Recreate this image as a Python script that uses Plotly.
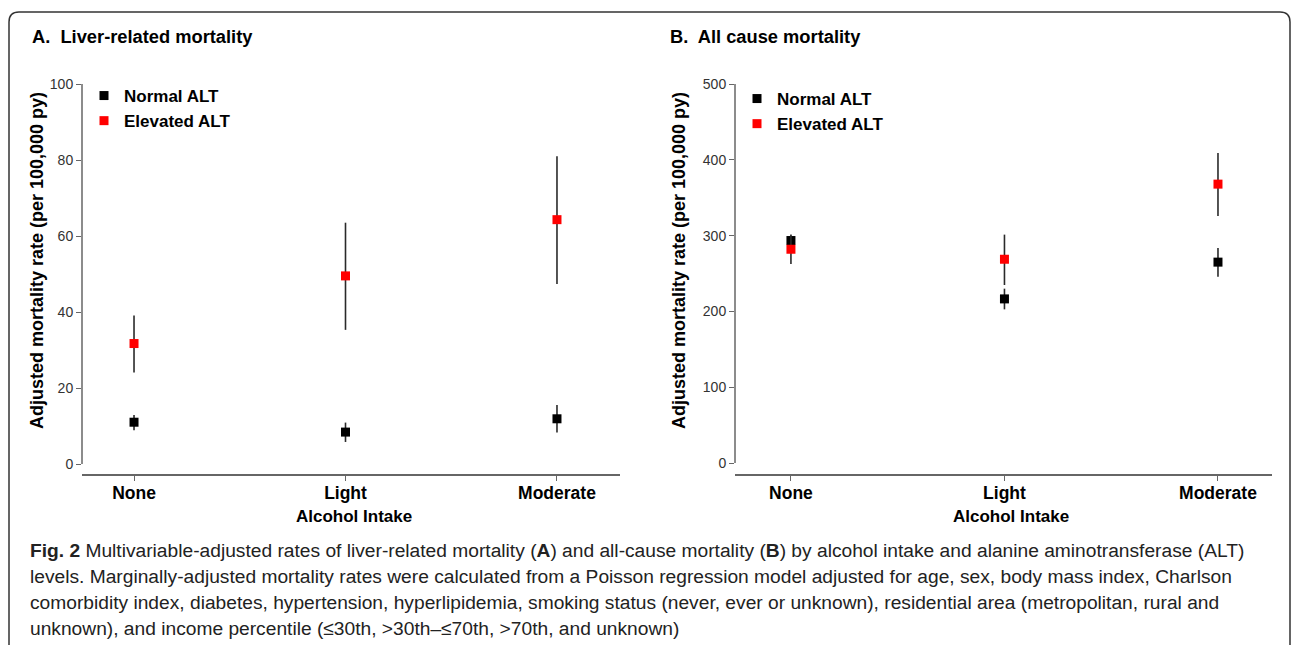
import plotly.graph_objects as go

W, H = 1292, 645

# ---------------- data ----------------
categories = ["None", "Light", "Moderate"]
series_names = ["Normal ALT", "Elevated ALT"]
series_colors = ["#000000", "#ff0000"]

# Panel A: liver-related mortality (per 100,000 py)
liver_normal = [11.0, 8.4, 11.9]
liver_normal_lo = [8.9, 5.8, 8.3]
liver_normal_hi = [12.9, 10.9, 15.5]
liver_elev = [31.7, 49.5, 64.3]
liver_elev_lo = [24.1, 35.3, 47.4]
liver_elev_hi = [39.1, 63.5, 81.0]

# Panel B: all cause mortality (per 100,000 py)
all_normal = [293.5, 216.5, 265.0]
all_normal_lo = [287.0, 202.7, 245.8]
all_normal_hi = [300.0, 230.0, 283.7]
all_elev = [282.0, 268.8, 367.9]
all_elev_lo = [262.6, 234.8, 326.0]
all_elev_hi = [301.5, 301.3, 408.9]

yticks_a = [0, 20, 40, 60, 80, 100]
yticks_b = [0, 100, 200, 300, 400, 500]

title_a = "A.&nbsp; Liver-related mortality"
title_b = "B.&nbsp; All cause mortality"
y_title = "Adjusted mortality rate (per 100,000 py)"
x_title = "Alcohol Intake"
caption_lines = [
    "<b>Fig. 2</b> Multivariable-adjusted rates of liver-related mortality (<b>A</b>) and all-cause mortality (<b>B</b>) by alcohol intake and alanine aminotransferase (ALT)",
    "levels. Marginally-adjusted mortality rates were calculated from a Poisson regression model adjusted for age, sex, body mass index, Charlson",
    "comorbidity index, diabetes, hypertension, hyperlipidemia, smoking status (never, ever or unknown), residential area (metropolitan, rural and",
    "unknown), and income percentile (≤30th, &gt;30th–≤70th, &gt;70th, and unknown)",
]

# ---------------- helpers ----------------
def fx(px):
    return px / W


def fy(py):
    return 1 - py / H


FONT = "Liberation Sans, Arial, sans-serif"
AXC = "#666666"

fig = go.Figure()


def add_series(est, lo, hi, name, color, xa, ya, legend):
    fig.add_trace(go.Scatter(
        x=categories, y=est, name=name, mode="markers",
        marker=dict(symbol="square", size=9, color=color),
        error_y=dict(type="data", symmetric=False,
                     array=[h - e for h, e in zip(hi, est)],
                     arrayminus=[e - l for e, l in zip(est, lo)],
                     width=0, color="#2a2a2a", thickness=1.6),
        xaxis=xa, yaxis=ya, legend=legend, showlegend=True,
    ))


add_series(liver_normal, liver_normal_lo, liver_normal_hi, series_names[0], series_colors[0], "x", "y", "legend")
add_series(liver_elev, liver_elev_lo, liver_elev_hi, series_names[1], series_colors[1], "x", "y", "legend")
add_series(all_normal, all_normal_lo, all_normal_hi, series_names[0], series_colors[0], "x2", "y2", "legend2")
add_series(all_elev, all_elev_lo, all_elev_hi, series_names[1], series_colors[1], "x2", "y2", "legend2")

xcommon = dict(type="category", categoryorder="array", categoryarray=categories,
               showline=True, linecolor=AXC, linewidth=1.5, ticks="outside", ticklen=5,
               tickcolor=AXC, tickwidth=1.2, showgrid=False, zeroline=False,
               ticklabelstandoff=-3,
               tickfont=dict(family=FONT, size=17.5, color="black", weight="bold"),
               automargin=False)
ycommon = dict(showline=False, ticks="outside", ticklen=5, tickcolor=AXC, tickwidth=1.2,
               showgrid=False, zeroline=False,
               tickfont=dict(family=FONT, size=14, color="#333333"), automargin=False)

LEGFONT = dict(family=FONT, size=17, color="black", weight="bold")

fig.update_layout(
    width=W, height=H,
    margin=dict(l=0, r=0, t=0, b=0),
    paper_bgcolor="white", plot_bgcolor="white",
    font=dict(family=FONT, color="black"),
    xaxis=dict(domain=[fx(82), fx(620)], range=[-0.246, 2.298], anchor="y", **xcommon),
    yaxis=dict(domain=[fy(474), fy(84)], range=[-2.63, 100], tickvals=yticks_a, anchor="x", **ycommon),
    xaxis2=dict(domain=[fx(735), fx(1272)], range=[-0.262, 2.253], anchor="y2", **xcommon),
    yaxis2=dict(domain=[fy(474), fy(84)], range=[-14.5, 500], tickvals=yticks_b, anchor="x2", **ycommon),
    legend=dict(x=fx(84), y=fy(78), xanchor="left", yanchor="top", bgcolor="rgba(0,0,0,0)",
                font=LEGFONT, itemclick=False),
    legend2=dict(x=fx(737), y=fy(81), xanchor="left", yanchor="top", bgcolor="rgba(0,0,0,0)",
                 font=LEGFONT, itemclick=False),
)

# y-axis lines (offset style, spanning only the tick range)
fig.add_shape(type="line", xref="paper", yref="y", x0=fx(82), x1=fx(82), y0=yticks_a[0], y1=yticks_a[-1],
              line=dict(color=AXC, width=1.5))
fig.add_shape(type="line", xref="paper", yref="y2", x0=fx(735), x1=fx(735), y0=yticks_b[0], y1=yticks_b[-1],
              line=dict(color=AXC, width=1.5))

# rounded frame
r = 10
path = (f"M {fx(9)},{fy(700)} L {fx(9)},{fy(12 + r)} Q {fx(9)},{fy(12)} {fx(9 + r)},{fy(12)} "
        f"L {fx(1290 - r)},{fy(12)} Q {fx(1290)},{fy(12)} {fx(1290)},{fy(12 + r)} L {fx(1290)},{fy(700)}")
fig.add_shape(type="path", xref="paper", yref="paper", path=path, line=dict(color="#333333", width=1.5))

# panel titles
for txt, px in [(title_a, 30), (title_b, 668)]:
    fig.add_annotation(text=f"<b>{txt}</b>", x=fx(px), y=fy(36), xref="paper", yref="paper",
                       xanchor="left", yanchor="middle", showarrow=False,
                       font=dict(family=FONT, size=18.3, color="black"))

# y axis titles
for px in [37, 679]:
    fig.add_annotation(text=f"<b>{y_title}</b>", x=fx(px), y=fy(261), xref="paper", yref="paper",
                       xanchor="center", yanchor="middle", textangle=-90, showarrow=False,
                       font=dict(family=FONT, size=18, color="black"))

# x axis titles
for px in [354, 1011]:
    fig.add_annotation(text=f"<b>{x_title}</b>", x=fx(px), y=fy(516), xref="paper", yref="paper",
                       xanchor="center", yanchor="middle", showarrow=False,
                       font=dict(family=FONT, size=17, color="black"))

# caption
for i, line in enumerate(caption_lines):
    fig.add_annotation(text=line, x=fx(28), y=fy(550 + 26 * i), xref="paper", yref="paper",
                       xanchor="left", yanchor="middle", showarrow=False, align="left",
                       font=dict(family=FONT, size=19.2, color="#222222"))

fig.write_html("out.html", config={"displayModeBar": False},
               post_script="document.body.style.margin='0';document.body.style.overflow='hidden';")
